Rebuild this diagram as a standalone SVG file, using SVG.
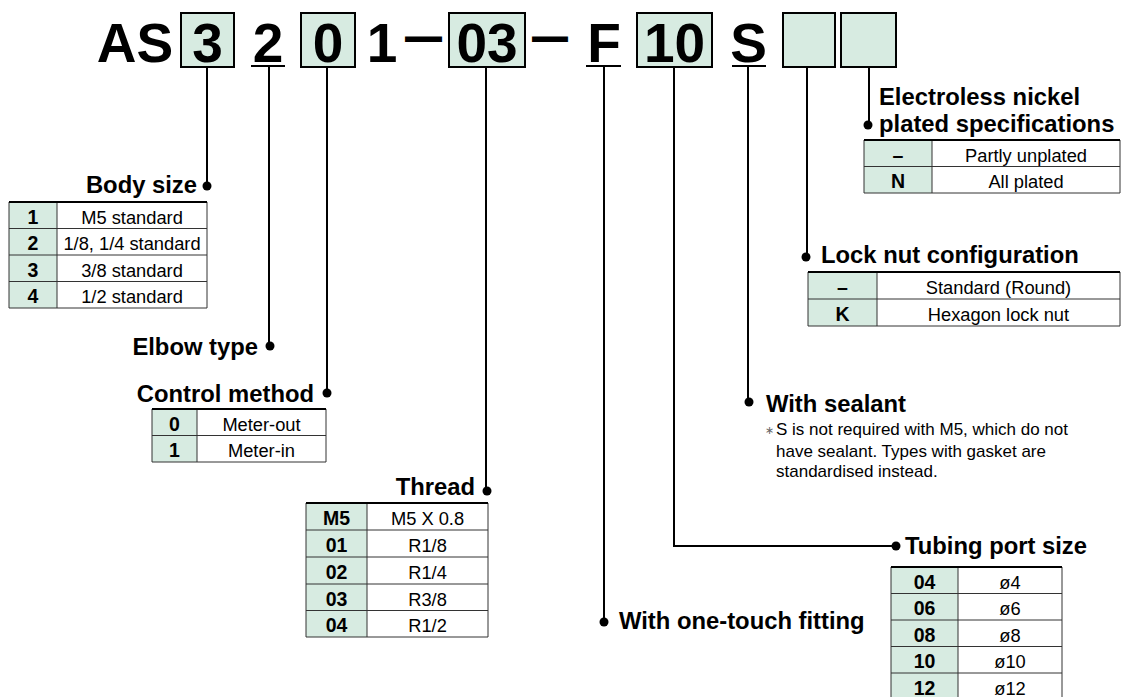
<svg xmlns="http://www.w3.org/2000/svg" width="1121" height="697" viewBox="0 0 1121 697">
<style>
.hd{font-family:"Liberation Sans",Arial,sans-serif;font-weight:bold;font-size:55px;fill:#000;text-anchor:middle}
.box{fill:#d7ebe1;stroke:#000;stroke-width:2}
.ul{stroke:#000;stroke-width:2}
.con{fill:none;stroke:#000;stroke-width:2}
.dot{fill:#000}
.lb{font-family:"Liberation Sans",Arial,sans-serif;font-weight:bold;font-size:23.8px;fill:#000}
.cd{font-family:"Liberation Sans",Arial,sans-serif;font-weight:bold;font-size:19.5px;fill:#000;text-anchor:middle}
.ds{font-family:"Liberation Sans",Arial,sans-serif;font-size:18.3px;fill:#000;text-anchor:middle}
.nt{font-family:"Liberation Sans",Arial,sans-serif;font-size:17px;fill:#000}
.gc{fill:#d7ebe1}
.wc{fill:#fff}
.tl{stroke:#333;stroke-width:1;fill:none}
.tt{stroke:#000;stroke-width:2.2}
</style>
<rect width="1121" height="697" fill="#fff"/>

<g id="header">
  <text class="hd" x="135" y="61.5">AS</text>
  <rect class="box" x="181" y="13" width="53" height="54"/>
  <text class="hd" x="207.5" y="61.5">3</text>
  <text class="hd" x="268" y="61.5">2</text>
  <line class="ul" x1="251" y1="66" x2="285" y2="66"/>
  <rect class="box" x="301" y="13" width="54" height="54"/>
  <text class="hd" x="328" y="61.5">0</text>
  <text class="hd" x="382" y="61.5">1</text>
  <text class="hd" x="423.5" y="54" textLength="37" lengthAdjust="spacingAndGlyphs">—</text>
  <rect class="box" x="449" y="13" width="76" height="54"/>
  <text class="hd" x="487" y="61.5">03</text>
  <text class="hd" x="550" y="54" textLength="36" lengthAdjust="spacingAndGlyphs">—</text>
  <text class="hd" x="604" y="61.5">F</text>
  <line class="ul" x1="586" y1="66" x2="621" y2="66"/>
  <rect class="box" x="637" y="13" width="75" height="54"/>
  <text class="hd" x="674.5" y="61.5">10</text>
  <text class="hd" x="748.5" y="61.5">S</text>
  <line class="ul" x1="732" y1="66" x2="766" y2="66"/>
  <rect class="box" x="783" y="13" width="52" height="54"/>
  <rect class="box" x="841" y="13" width="55" height="54"/>
</g>

<g id="connectors">
  <path class="con" d="M207 67V186"/>
  <circle class="dot" cx="207" cy="186" r="4.5"/>
  <path class="con" d="M269 67V346"/>
  <circle class="dot" cx="270" cy="346" r="4.5"/>
  <path class="con" d="M327 67V393"/>
  <circle class="dot" cx="327" cy="393" r="4.5"/>
  <path class="con" d="M486 67V491"/>
  <circle class="dot" cx="487" cy="491" r="4.5"/>
  <path class="con" d="M604 67V622"/>
  <circle class="dot" cx="604" cy="622" r="4.5"/>
  <path class="con" d="M674 67V546H896"/>
  <circle class="dot" cx="896" cy="546" r="4.5"/>
  <path class="con" d="M748 67V402"/>
  <circle class="dot" cx="749" cy="402" r="4.5"/>
  <path class="con" d="M807 67V257"/>
  <circle class="dot" cx="806" cy="257" r="4.5"/>
  <path class="con" d="M869 67V125"/>
  <circle class="dot" cx="868" cy="125" r="4.5"/>
</g>

<g id="body-size">
  <text class="lb" x="197" y="193" text-anchor="end">Body size</text>
  <rect class="gc" x="9" y="202" width="48" height="106"/>
  <rect class="wc" x="57" y="202" width="150" height="106"/>
  <path class="tl" d="M9 202V308H207V202M57 202V308M9 228.5H207M9 255H207M9 281.5H207"/>
  <line class="tt" x1="9" y1="202" x2="207" y2="202"/>
  <text class="cd" x="33" y="223.5">1</text><text class="ds" x="132" y="223.5">M5 standard</text>
  <text class="cd" x="33" y="250">2</text><text class="ds" x="132" y="250">1/8, 1/4 standard</text>
  <text class="cd" x="33" y="276.5">3</text><text class="ds" x="132" y="276.5">3/8 standard</text>
  <text class="cd" x="33" y="303">4</text><text class="ds" x="132" y="303">1/2 standard</text>
</g>

<g id="elbow-type">
  <text class="lb" x="258" y="355" text-anchor="end">Elbow type</text>
</g>

<g id="control-method">
  <text class="lb" x="314" y="402" text-anchor="end">Control method</text>
  <rect class="gc" x="152" y="409" width="45" height="53"/>
  <rect class="wc" x="197" y="409" width="129" height="53"/>
  <path class="tl" d="M152 409V462H326V409M197 409V462M152 435.5H326"/>
  <line class="tt" x1="152" y1="409" x2="326" y2="409"/>
  <text class="cd" x="174.5" y="430.5">0</text><text class="ds" x="261.5" y="430.5">Meter-out</text>
  <text class="cd" x="174.5" y="457">1</text><text class="ds" x="261.5" y="457">Meter-in</text>
</g>

<g id="thread">
  <text class="lb" x="475" y="495" text-anchor="end">Thread</text>
  <rect class="gc" x="306" y="503" width="61" height="134"/>
  <rect class="wc" x="367" y="503" width="121" height="134"/>
  <path class="tl" d="M306 503V637H488V503M367 503V637M306 530H488M306 557H488M306 584H488M306 610.5H488"/>
  <line class="tt" x1="306" y1="503" x2="488" y2="503"/>
  <text class="cd" x="336.5" y="525">M5</text><text class="ds" x="427.5" y="525">M5 X 0.8</text>
  <text class="cd" x="336.5" y="552">01</text><text class="ds" x="427.5" y="552">R1/8</text>
  <text class="cd" x="336.5" y="579">02</text><text class="ds" x="427.5" y="579">R1/4</text>
  <text class="cd" x="336.5" y="605.5">03</text><text class="ds" x="427.5" y="605.5">R3/8</text>
  <text class="cd" x="336.5" y="632">04</text><text class="ds" x="427.5" y="632">R1/2</text>
</g>

<g id="one-touch">
  <text class="lb" x="619" y="629">With one-touch fitting</text>
</g>

<g id="tubing-port-size">
  <text class="lb" x="905" y="554">Tubing port size</text>
  <rect class="gc" x="891" y="567" width="67" height="133"/>
  <rect class="wc" x="958" y="567" width="104" height="133"/>
  <path class="tl" d="M891 700V567M1062 567V700M958 567V700M891 593.5H1062M891 620H1062M891 646.5H1062M891 673H1062"/>
  <line class="tt" x1="891" y1="567" x2="1062" y2="567"/>
  <text class="cd" x="924.5" y="588.5">04</text><text class="ds" x="1010" y="588.5">ø4</text>
  <text class="cd" x="924.5" y="615">06</text><text class="ds" x="1010" y="615">ø6</text>
  <text class="cd" x="924.5" y="641.5">08</text><text class="ds" x="1010" y="641.5">ø8</text>
  <text class="cd" x="924.5" y="668">10</text><text class="ds" x="1010" y="668">ø10</text>
  <text class="cd" x="924.5" y="694.5">12</text><text class="ds" x="1010" y="694.5">ø12</text>
</g>

<g id="with-sealant">
  <text class="lb" x="766" y="412">With sealant</text>
  <text x="765" y="434" font-family="'DejaVu Sans',sans-serif" font-size="11" fill="#666">∗</text>
  <text class="nt" x="776" y="435">S is not required with M5, which do not</text>
  <text class="nt" x="776" y="456.5">have sealant. Types with gasket are</text>
  <text class="nt" x="776" y="477">standardised instead.</text>
</g>

<g id="lock-nut">
  <text class="lb" x="821" y="263">Lock nut configuration</text>
  <rect class="gc" x="808" y="272" width="69" height="54"/>
  <rect class="wc" x="877" y="272" width="243" height="54"/>
  <path class="tl" d="M808 272V326H1120V272M877 272V326M808 299H1120"/>
  <line class="tt" x1="808" y1="272" x2="1120" y2="272"/>
  <text class="cd" x="842.5" y="293.5">–</text><text class="ds" x="998.5" y="293.5">Standard (Round)</text>
  <text class="cd" x="842.5" y="320.5">K</text><text class="ds" x="998.5" y="320.5">Hexagon lock nut</text>
</g>

<g id="electroless">
  <text class="lb" x="879" y="105">Electroless nickel</text>
  <text class="lb" x="879" y="132">plated specifications</text>
  <rect class="gc" x="864" y="140" width="68" height="53"/>
  <rect class="wc" x="932" y="140" width="188" height="53"/>
  <path class="tl" d="M864 140V193H1120V140M932 140V193M864 166.5H1120"/>
  <line class="tt" x1="864" y1="140" x2="1120" y2="140"/>
  <text class="cd" x="898" y="161.5">–</text><text class="ds" x="1026" y="161.5">Partly unplated</text>
  <text class="cd" x="898" y="188">N</text><text class="ds" x="1026" y="188">All plated</text>
</g>
</svg>
